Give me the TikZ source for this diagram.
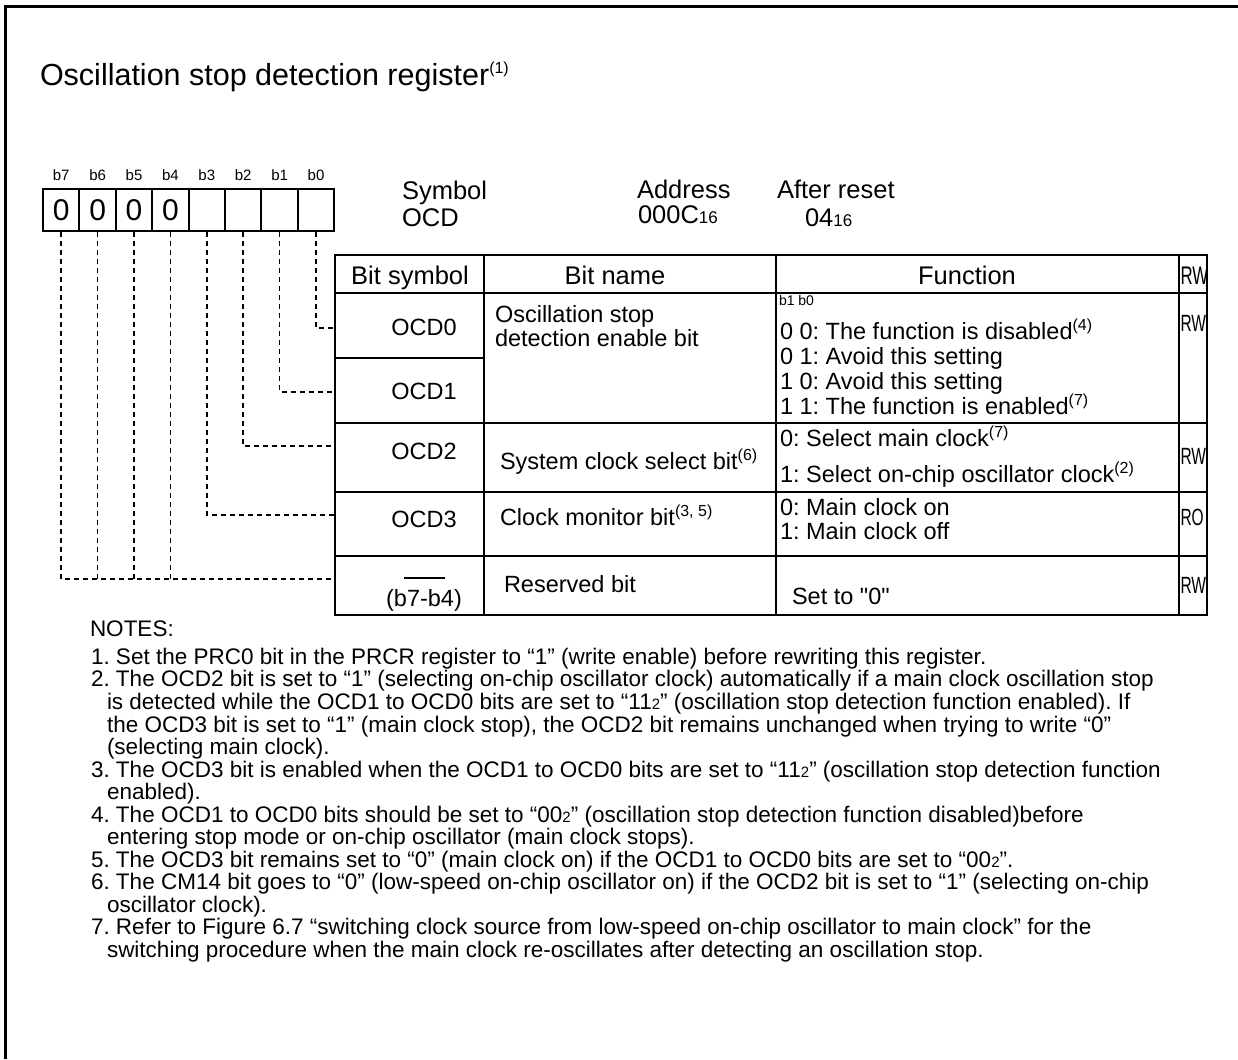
\documentclass[tikz,border=0pt]{standalone}
\usepackage{fontspec}
\setmainfont{Liberation Sans}[Ligatures=TeXOff]
\newcommand\fsz[1]{\fontsize{#1}{#1}\selectfont}
\newcommand\ssp[1]{\raisebox{0.38em}{\fontsize{16}{16}\selectfont(#1)}}
\newcommand\smn[1]{{\fontsize{17}{17}\selectfont #1}}
\newcommand\smq[1]{{\fontsize{15}{15}\selectfont #1}}
\newcommand\rwbox[1]{\scalebox{0.66}[1]{#1}}
\begin{document}
\frenchspacing
\begin{tikzpicture}[x=1pt,y=-1pt,
  tx/.style={inner sep=0pt,outer sep=0pt,anchor=base west,font=\fsz{23.5}},
  txc/.style={inner sep=0pt,outer sep=0pt,anchor=base,font=\fsz{23.5}},
  hd/.style={font=\fsz{25.5}},
  nt/.style={inner sep=0pt,outer sep=0pt,anchor=base west,font=\fsz{22.5}},
  grid/.style={line width=2pt},
  leader/.style={line width=1.6pt,dash pattern=on 5pt off 4pt}]
\useasboundingbox (0,0) rectangle (1238,1059);
% frame
\draw[line width=3pt] (5,1059) -- (5,7) -- (1238,7);
% title
\node[tx,font=\fsz{30.5}] (title) at (40,86) {Oscillation stop detection register\raisebox{0.4em}{\fsz{16}(1)}};
% bit boxes
\foreach \i/\v in {0/0,1/0,2/0,3/0,4/{},5/{},6/{},7/{}}{
  \pgfmathsetmacro\xl{42+36.4*\i}
  \pgfmathtruncatemacro\bn{7-\i}
  \node[draw,line width=2pt,minimum width=36.4pt,minimum height=42pt,anchor=north west,inner sep=0pt,font=\fsz{30}] (c\bn) at (\xl,188) {\v};
  \node[txc,font=\fsz{15}] (l\bn) at ([yshift=7pt]c\bn.north) {b\bn};
}
% header info
\node[tx,hd] (sym) at (402,200) {Symbol};
\node[tx,hd] (symv) at (402,227) {OCD};
\node[tx,hd] (adr) at (637,199) {Address};
\node[tx,hd] (adrv) at (638,224) {000C\smn{16}};
\node[tx,hd] (ar) at (777,199) {After reset};
\node[tx,hd] (arv) at (805,227) {04\smn{16}};
% table grid
\draw[grid] (335,255) rectangle (1207,615);
\draw[grid] (335,293) -- (1207,293);
\draw[grid] (335,358) -- (484,358);
\draw[grid] (335,423) -- (1207,423);
\draw[grid] (335,492) -- (1207,492);
\draw[grid] (335,556) -- (1207,556);
\draw[grid] (484,255) -- (484,615);
\draw[grid] (776,255) -- (776,615);
\draw[grid] (1179,255) -- (1179,615);
% header row
\node[txc,hd] (h1) at (410,284) {Bit symbol};
\node[txc,hd] (h2) at (615,284) {Bit name};
\node[txc,hd] (h3) at (967,284) {Function};
\node[tx,hd] (h4) at (1180.5,284) {\rwbox{RW}};
% bit symbols
\node[txc] (s0) at (424,335) {OCD0};
\node[txc] (s1) at (424,399) {OCD1};
\node[txc] (s2) at (424,459) {OCD2};
\node[txc] (s3) at (424,527) {OCD3};
\node[txc] (s4) at (424,606) {(b7-b4)};
\draw[line width=2pt] (404,578) -- (445,578);
% bit names
\node[tx] (n0a) at (495,322) {Oscillation stop};
\node[tx] (n0b) at (495,346) {detection enable bit};
\node[tx] (n2) at (500,469) {System clock select bit\ssp{6}};
\node[tx] (n3) at (500,525) {Clock monitor bit\ssp{3, 5}};
\node[tx] (n4) at (504,592) {Reserved bit};
% functions
\node[tx,font=\fsz{14}] (fb) at (779,305) {b1 b0};
\node[tx] (f0) at (780,339) {0 0: The function is disabled\ssp{4}};
\node[tx] (f1) at (780,364) {0 1: Avoid this setting};
\node[tx] (f2) at (780,389) {1 0: Avoid this setting};
\node[tx] (f3) at (780,414) {1 1: The function is enabled\ssp{7}};
\node[tx] (f4) at (780,446) {0: Select main clock\ssp{7}};
\node[tx] (f5) at (780,482) {1: Select on-chip oscillator clock\ssp{2}};
\node[tx] (f6) at (780,515) {0: Main clock on};
\node[tx] (f7) at (780,539) {1: Main clock off};
\node[tx] (f8) at (792,604) {Set to "0"};
% RW
\node[tx] (r0) at (1180.5,331) {\rwbox{RW}};
\node[tx] (r2) at (1180.5,464) {\rwbox{RW}};
\node[tx] (r3) at (1180.5,525) {\rwbox{RO}};
\node[tx] (r4) at (1180.5,593) {\rwbox{RW}};
% leaders
\coordinate (e0) at (334,328);
\coordinate (e1) at (334,392);
\coordinate (e2) at (334,446);
\coordinate (e3) at (334,515);
\coordinate (e4) at (334,579);
\draw[leader] (c0.south) |- (e0);
\draw[leader] (c1.south) |- (e1);
\draw[leader] (c2.south) |- (e2);
\draw[leader] (c3.south) |- (e3);
\draw[leader] (c7.south) |- (e4);
\draw[leader] (c6.south) -- (c6.south |- e4);
\draw[leader] (c5.south) -- (c5.south |- e4);
\draw[leader] (c4.south) -- (c4.south |- e4);
% notes
\node[nt] (notes) at (90,636) {NOTES:};
\node[nt] (a1) at (91,664) {1. Set the PRC0 bit in the PRCR register to “1” (write enable) before rewriting this register.};
\node[nt] (a2) at (91,686) {2. The OCD2 bit is set to “1” (selecting on-chip oscillator clock) automatically if a main clock oscillation stop};
\node[nt] (a2b) at (107,709) {is detected while the OCD1 to OCD0 bits are set to “11\smq{2}” (oscillation stop detection function enabled). If};
\node[nt] (a2c) at (107,732) {the OCD3 bit is set to “1” (main clock stop), the OCD2 bit remains unchanged when trying to write “0”};
\node[nt] (a2d) at (107,754) {(selecting main clock).};
\node[nt] (a3) at (91,777) {3. The OCD3 bit is enabled when the OCD1 to OCD0 bits are set to “11\smq{2}” (oscillation stop detection function};
\node[nt] (a3b) at (107,799) {enabled).};
\node[nt] (a4) at (91,822) {4. The OCD1 to OCD0 bits should be set to “00\smq{2}” (oscillation stop detection function disabled)before};
\node[nt] (a4b) at (107,844) {entering stop mode or on-chip oscillator (main clock stops).};
\node[nt] (a5) at (91,867) {5. The OCD3 bit remains set to “0” (main clock on) if the OCD1 to OCD0 bits are set to “00\smq{2}”.};
\node[nt] (a6) at (91,889) {6. The CM14 bit goes to “0” (low-speed on-chip oscillator on) if the OCD2 bit is set to “1” (selecting on-chip};
\node[nt] (a6b) at (107,912) {oscillator clock).};
\node[nt] (a7) at (91,934) {7. Refer to Figure 6.7 “switching clock source from low-speed on-chip oscillator to main clock” for the};
\node[nt] (a7b) at (107,957) {switching procedure when the main clock re-oscillates after detecting an oscillation stop.};
\end{tikzpicture}
\end{document}
